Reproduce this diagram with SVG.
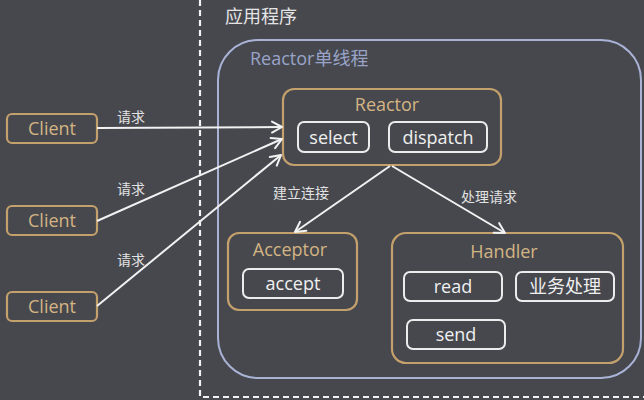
<svg xmlns="http://www.w3.org/2000/svg" width="644" height="400" viewBox="0 0 644 400">
<defs>
<marker id="arr" markerWidth="14" markerHeight="14" refX="12" refY="7" orient="auto" markerUnits="userSpaceOnUse">
<path d="M2,1.5 L12,7 L2,12.5" fill="none" stroke="#f2f2f2" stroke-width="2" stroke-linecap="round" stroke-linejoin="round"/>
</marker>
</defs>
<style>
.gold{fill:none;stroke:#c4a06c;stroke-width:2.2}
.white{fill:none;stroke:#ececec;stroke-width:2}
.gt{font-family:"Open Sans","Noto Sans","Noto Sans CJK SC",sans-serif;fill:#d4b483;font-size:18px;text-anchor:middle}
.wt{font-family:"Open Sans","Noto Sans","Noto Sans CJK SC",sans-serif;fill:#f0f0f0;font-size:18px;text-anchor:middle}
.lbl{font-family:"Noto Sans CJK SC","Noto Sans",sans-serif;fill:#e2e2e2;font-size:14px;text-anchor:middle}
.conn{fill:none;stroke:#f2f2f2;stroke-width:2;marker-end:url(#arr)}
</style>
<rect width="644" height="400" fill="#46484e"/>
<path d="M200,0 V397 H644" fill="none" stroke="#f2f2f2" stroke-width="2.2" stroke-dasharray="6,4"/>
<text x="225" y="23" font-family="Noto Sans CJK SC,sans-serif" font-size="18" fill="#e4e4e4">应用程序</text>
<g id="reactor-thread">
<rect x="218" y="40" width="423" height="338" rx="40" fill="none" stroke="#aab3d6" stroke-width="2"/>
<text x="250" y="65" font-family="Open Sans,Noto Sans CJK SC,sans-serif" font-size="18" fill="#9aa3c8">Reactor单线程</text>
</g>
<g id="client1"><rect class="gold" x="7" y="114" width="90" height="29" rx="5"/><text class="gt" x="52" y="135">Client</text></g>
<g id="client2"><rect class="gold" x="7" y="206" width="90" height="29" rx="5"/><text class="gt" x="52" y="227">Client</text></g>
<g id="client3"><rect class="gold" x="7" y="292" width="90" height="29" rx="5"/><text class="gt" x="52" y="313">Client</text></g>
<g id="reactor">
<rect class="gold" x="283" y="89" width="218" height="76" rx="11"/>
<text class="gt" x="387" y="111">Reactor</text>
<rect class="white" x="298" y="122" width="71" height="30" rx="6"/>
<text class="wt" x="333.5" y="143.5">select</text>
<rect class="white" x="389" y="122" width="98" height="30" rx="6"/>
<text class="wt" x="438" y="143.5">dispatch</text>
</g>
<g id="acceptor">
<rect class="gold" x="228" y="233" width="129" height="77" rx="11"/>
<text class="gt" x="290" y="256">Acceptor</text>
<rect class="white" x="243" y="269" width="100" height="29" rx="6"/>
<text class="wt" x="293" y="290">accept</text>
</g>
<g id="handler">
<rect class="gold" x="392" y="233" width="231" height="130" rx="14"/>
<text class="gt" x="504" y="258">Handler</text>
<rect class="white" x="404" y="272" width="98" height="29" rx="6"/>
<text class="wt" x="453" y="293">read</text>
<rect class="white" x="516" y="272" width="98" height="29" rx="6"/>
<text class="wt" x="565" y="293" font-family="Noto Sans CJK SC,sans-serif" font-size="18">业务处理</text>
<rect class="white" x="407" y="320" width="98" height="29" rx="6"/>
<text class="wt" x="456" y="341">send</text>
</g>
<g id="connectors">
<line class="conn" x1="97" y1="128" x2="282" y2="127"/>
<line class="conn" x1="97" y1="221" x2="282" y2="139"/>
<line class="conn" x1="97" y1="306" x2="281" y2="155"/>
<line class="conn" x1="390" y1="166" x2="295" y2="232"/>
<line class="conn" x1="392" y1="166" x2="505" y2="233"/>
<text class="lbl" x="131" y="122">请求</text>
<text class="lbl" x="131" y="194">请求</text>
<text class="lbl" x="131" y="265">请求</text>
<text class="lbl" x="301" y="198">建立连接</text>
<text class="lbl" x="489" y="202">处理请求</text>
</g>
</svg>
